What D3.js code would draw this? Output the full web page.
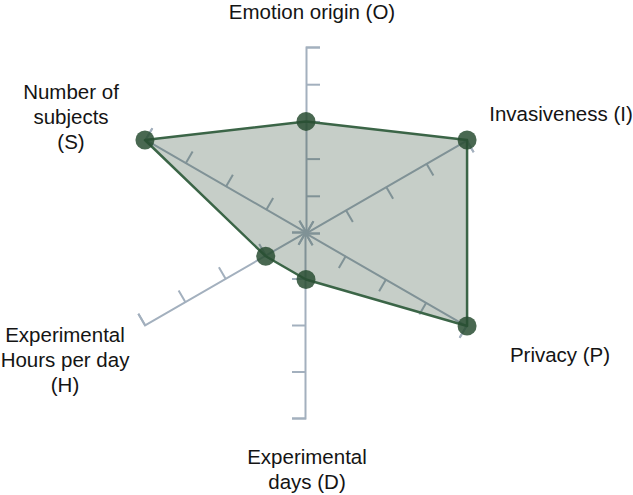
<!DOCTYPE html>
<html>
<head>
<meta charset="utf-8">
<script src="https://cdn.jsdelivr.net/npm/d3@7"></script>
<style>
    body { margin: 0; background: #fff; }
    svg { display: block; }
</style>
</head>
<body>
<div id="radar"></div>
<script>
// chart data
const axisNames = ["Emotion origin (O)", "Invasiveness (I)", "Privacy (P)", "Experimental days (D)", "Experimental Hours per day (H)", "Number of subjects (S)"];
const labelLines = [["Emotion origin (O)"], ["Invasiveness (I)"], ["Privacy (P)"], ["Experimental", "days (D)"], ["Experimental", "Hours per day", "(H)"], ["Number of", "subjects", "(S)"]];
const axisMax = [5, 4, 4, 4, 4, 4];
const values = [3, 4, 4, 1, 1, 4];

window.onload = () => {
    var width = 633;
    var height = 495;
    var cx = 306, cy = 233;
    var radius = 186;

    // label anchors (first baseline) relative to centre
    var labelPos = [[6, -214], [255, -112], [254, 129], [1, 231], [-241, 109], [-235, -134]];

    var svg = d3.select("#radar")
        .append("svg")
        .attr("width", width)
        .attr("height", height)

    var g = svg.append("g")
        .attr("transform", `translate(${cx},${cy})`)

    var step = 2 * Math.PI / axisNames.length;

    // one linear scale per axis
    var scales = axisMax.map((m) => {
        return d3.scaleLinear().domain([0, m]).range([0, radius]);
    })

    // axes, drawn as vertical axisRight then rotated into place
    axisNames.forEach((name, i) => {
        var s = d3.scaleLinear().domain([0, axisMax[i]]).range([0, -radius]);
        var ax = d3.axisRight(s)
            .tickValues(d3.range(0, axisMax[i] + 1))
            .tickSize(14)
            .tickSizeOuter(14)
            .tickFormat("")
        g.append("g")
            .attr("class", "axis")
            .attr("transform", `rotate(${i * 360 / axisNames.length})`)
            .attr("color", "#a3b0be")
            .call(ax)
            .call((sel) => sel.selectAll("path, line").attr("stroke-width", 2))
    })

    // area
    var radar = d3.lineRadial()
        .angle((d, i) => i * step)
        .radius((d, i) => scales[i](d))
        .curve(d3.curveLinearClosed)

    g.append("path")
        .datum(values)
        .attr("d", radar)
        .attr("fill", "#0f3318")
        .attr("fill-opacity", 0.24)
        .attr("stroke", "#3b6547")
        .attr("stroke-width", 2.5)
        .attr("stroke-linejoin", "round")

    // points
    g.selectAll("circle.pt")
        .data(values)
        .enter()
        .append("circle")
        .attr("class", "pt")
        .attr("cx", (d, i) => scales[i](d) * Math.sin(i * step))
        .attr("cy", (d, i) => -scales[i](d) * Math.cos(i * step))
        .attr("r", 9.5)
        .attr("fill", "#294d33")
        .attr("fill-opacity", 0.85)

    // axis titles
    var labels = g.selectAll("text.lbl")
        .data(labelLines)
        .enter()
        .append("text")
        .attr("class", "lbl")
        .attr("text-anchor", "middle")
        .attr("font-family", "'Liberation Sans', Arial, sans-serif")
        .attr("font-size", 20.5)
        .attr("fill", "#141414")
        .attr("transform", (d, i) => `translate(${labelPos[i][0]},${labelPos[i][1]})`)

    labels.selectAll("tspan")
        .data((d) => d)
        .enter()
        .append("tspan")
        .attr("x", 0)
        .attr("y", (d, j) => j * 25)
        .text((d) => d)
}
</script>
</body>
</html>
